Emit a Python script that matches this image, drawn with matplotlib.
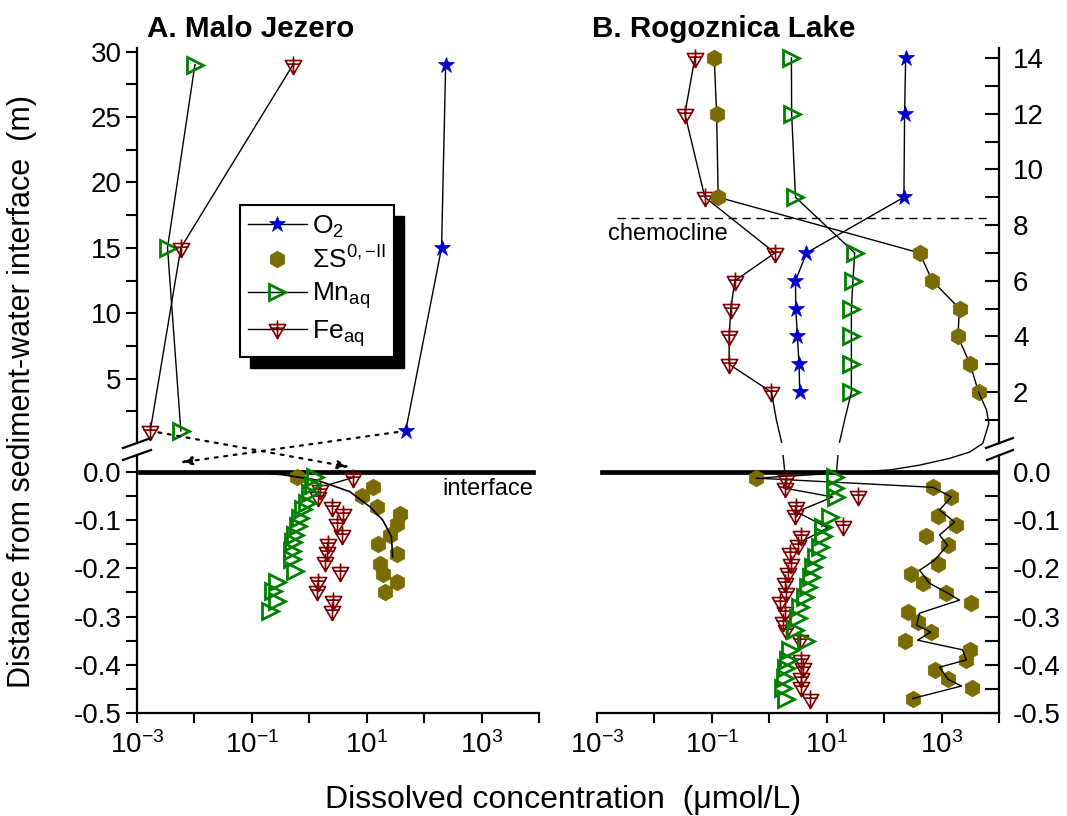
import numpy as np
import matplotlib
matplotlib.use('Agg')
import matplotlib.pyplot as plt
from matplotlib.path import Path
from matplotlib.lines import Line2D
from matplotlib.patches import Rectangle
from matplotlib.ticker import FixedLocator, NullFormatter, FormatStrFormatter, LogFormatterMathtext, NullLocator

plt.rcParams['font.family'] = ['Liberation Sans', 'DejaVu Sans']
plt.rcParams['mathtext.fontset'] = 'custom'
plt.rcParams['mathtext.rm'] = 'Liberation Sans'
plt.rcParams['mathtext.it'] = 'Liberation Sans:italic'
plt.rcParams['mathtext.bf'] = 'Liberation Sans:bold'
plt.rcParams['axes.unicode_minus'] = False

# ---------------- data ----------------
# Panel A (Malo Jezero) water column, height above sediment (m)
a_wc_depth = [29, 15, 1]
a_wc_o2 = [237, 201, 47.7]
a_wc_mn = [0.0102, 0.0034, 0.0058]
a_wc_fe = [0.52, 0.0058, 0.0017]

# Panel A pore water (m, negative below interface)
a_pw_mn_depth = [-0.010, -0.027, -0.043, -0.064, -0.078, -0.095, -0.113, -0.130,
                 -0.146, -0.165, -0.181, -0.206, -0.228, -0.247, -0.267, -0.288]
a_pw_mn = [1.25, 1.15, 1.02, 0.91, 0.77, 0.68, 0.63, 0.56,
           0.52, 0.50, 0.50, 0.56, 0.27, 0.23, 0.27, 0.21]
a_pw_fe_depth = [-0.012, -0.037, -0.053, -0.072, -0.088, -0.109, -0.130, -0.150,
                 -0.167, -0.187, -0.208, -0.228, -0.247, -0.267, -0.288]
a_pw_fe = [5.7, 1.52, 1.41, 2.46, 3.83, 3.0, 3.67, 2.1,
           2.0, 1.86, 3.39, 1.41, 1.35, 2.56, 2.46]
a_pw_s_depth = [-0.010, -0.031, -0.051, -0.072, -0.088, -0.109, -0.130, -0.150,
                -0.171, -0.191, -0.212, -0.228, -0.249]
a_pw_s = [0.61, 12.7, 8.2, 14.9, 37.5, 33.3, 25.1, 15.5, 33.3, 16.8, 19.0, 33.3, 20.6]
a_pw_s_fit_depth = [0.0, -0.006, -0.017, -0.041, -0.072, -0.100, -0.134, -0.176]
a_pw_s_fit = [0.092, 0.346, 1.35, 5.06, 11.3, 19.0, 26.9, 28.3]
a_pw_fe_fit_depth = [-0.012, -0.027]
a_pw_fe_fit = [5.7, 2.14]
# bottom-water -> pore-water flux arrows (end points in pore-water coordinates)
a_arrow_fe_end = (5.06, 0.010)
a_arrow_o2_end = (0.0056, 0.0195)

# Panel B (Rogoznica Lake) water column depth (m)
b_wc_depth = [14, 12, 9, 7, 6, 5, 4, 3, 2]
b_wc_o2 = [237, 227, 221, 4.44, 2.86, 2.89, 3.09, 3.30, 3.39]
b_wc_mn = [2.43, 2.45, 2.86, 30.7, 28.6, 26.9, 26.9, 26.9, 26.9]
b_wc_fe = [0.0506, 0.0339, 0.0755, 1.25, 0.251, 0.214, 0.20, 0.20, 1.09]
b_wc_s = [0.110, 0.121, 0.129, 414, 689, 2055, 1920, 3155, 4400]
b_chemocline = 8.25

# extrapolated profiles down to the interface (water part / sediment part)
b_ext_fe_wc_depth = [2.0, 1.0, 0.22, 0.0]
b_ext_fe_wc = [1.09, 1.33, 1.63, 1.70]
b_ext_fe_pw_depth = [0.06, 0.035, 0.0]
b_ext_fe_pw = [1.70, 1.74, 1.86]
b_ext_mn_wc_depth = [2.0, 1.0, 0.22, 0.0]
b_ext_mn_wc = [26.9, 20.5, 16.8, 16.3]
b_ext_mn_pw_depth = [0.06, 0.035, 0.0]
b_ext_mn_pw = [16.0, 15.7, 14.8]
b_ext_s_wc_depth = [2.0, 1.36, 0.88, 0.16]
b_ext_s_wc = [4400, 6070, 6650, 5220]
b_ext_s_pw_depth = [0.041, 0.028, 0.014, 0.004, -0.013]
b_ext_s_pw = [3070, 1377, 414, 125, 0.598]

# Panel B pore water
b_pw_s_depth = [-0.013, -0.032, -0.052, -0.092, -0.111, -0.132, -0.152, -0.192, -0.211,
                -0.231, -0.251, -0.271, -0.291, -0.311, -0.332, -0.350, -0.370, -0.390,
                -0.410, -0.430, -0.449, -0.470]
b_pw_s = [0.598, 706, 1475, 863, 1780, 542, 1288, 863, 297, 473, 1207, 3220, 259, 387,
          649, 227, 3120, 2690, 755, 1288, 3350, 313]
b_pw_s_fit_depth = [-0.013, -0.032, -0.052, -0.079, -0.104, -0.131, -0.152, -0.183, -0.204,
                    -0.231, -0.249, -0.266, -0.276, -0.293, -0.318, -0.332, -0.349, -0.369,
                    -0.390, -0.405, -0.430, -0.444, -0.470]
b_pw_s_fit = [0.598, 706, 1475, 923, 1683, 923, 1270, 755, 414, 618, 1175, 2056, 1127,
              414, 367, 649, 383, 2317, 2690, 923, 1288, 2228, 313]
b_pw_mn_depth = [-0.010, -0.034, -0.053, -0.093, -0.114, -0.134, -0.155, -0.176, -0.197,
                 -0.217, -0.238, -0.259, -0.280, -0.304, -0.328, -0.350, -0.369, -0.390,
                 -0.407, -0.428, -0.449, -0.470]
b_pw_mn = [13.8, 13.8, 14.8, 11.3, 8.63, 8.63, 7.55, 6.62, 5.78, 5.42, 4.73, 4.14, 3.39,
           3.17, 2.77, 4.44, 2.28, 2.12, 1.99, 1.86, 1.74, 1.99]
b_pw_fe_depth = [-0.017, -0.034, -0.051, -0.072, -0.089, -0.112, -0.134, -0.152, -0.169,
                 -0.190, -0.210, -0.231, -0.252, -0.269, -0.290, -0.311, -0.328, -0.349,
                 -0.390, -0.407, -0.428, -0.446, -0.470]
b_pw_fe = [1.99, 1.86, 35, 2.97, 2.77, 19.2, 3.63, 3.17, 2.28, 2.43, 2.12, 1.86, 1.99,
           1.52, 1.86, 1.74, 1.99, 3.39, 3.63, 3.87, 3.63, 3.63, 5.06]
b_pw_fe_fit_depth = [-0.017, -0.033, -0.052, -0.083, -0.116, -0.141]
b_pw_fe_fit = [1.99, 1.72, 12.7, 3.0, 10.4, 4.14]

x_major = [1e-3, 1e-1, 1e1, 1e3]
x_minor = [1e-2, 1e0, 1e2, 1e4]

# ---------------- styles ----------------
BLUE = '#0000CC'
GREEN = '#008000'
DRED = '#800000'
OLIVE = '#7a6c00'

fe_marker = Path([(-0.9, 0.55), (0.9, 0.55), (0.0, -1.0), (-0.9, 0.55),
                  (0.0, 1.0), (0.0, -1.0), (-0.75, 0.15), (0.75, 0.15)],
                 [Path.MOVETO, Path.LINETO, Path.LINETO, Path.CLOSEPOLY,
                  Path.MOVETO, Path.LINETO, Path.MOVETO, Path.LINETO])

st_o2 = dict(marker='*', ms=12, mfc=BLUE, mec=BLUE, mew=0.5)
st_s = dict(marker='h', ms=12, mfc=OLIVE, mec=OLIVE, mew=0.5)
st_mn = dict(marker='>', ms=11, mfc='none', mec=GREEN, mew=2)
st_fe = dict(marker=fe_marker, ms=13, mfc='none', mec=DRED, mew=1.2)
LW = 1.0
TICKFS = 20

W, H = 1067, 816
fig = plt.figure(figsize=(W / 100, H / 100), dpi=100)


def rect(x0, y0, x1, y1):
    return [x0 / W, 1 - y1 / H, (x1 - x0) / W, (y1 - y0) / H]


axAt = fig.add_axes(rect(137, 48, 539, 443))
axAb = fig.add_axes(rect(137, 455, 539, 713))
axBt = fig.add_axes(rect(597, 48, 999, 443))
axBb = fig.add_axes(rect(597, 455, 999, 713))

for ax in (axAt, axAb, axBt, axBb):
    ax.set_xscale('log')
    ax.set_xlim(1e-3, 1e4)
    ax.set_facecolor('none')
    for s in ax.spines.values():
        s.set_visible(False)
        s.set_linewidth(1.6)

axAt.set_ylim(0.076, 30.28)
axBt.set_ylim(0.173, 14.36)
axAb.set_ylim(-0.5, 0.035)
axBb.set_ylim(-0.5, 0.035)

# spines
axAt.spines['left'].set_visible(True)
axAb.spines['left'].set_visible(True)
axAb.spines['bottom'].set_visible(True)
axBt.spines['right'].set_visible(True)
axBb.spines['right'].set_visible(True)
axBb.spines['bottom'].set_visible(True)

# ticks
for ax in (axAt, axBt):
    ax.xaxis.set_major_locator(NullLocator())
    ax.xaxis.set_minor_locator(NullLocator())
for ax in (axAb, axBb):
    ax.xaxis.set_major_locator(FixedLocator(x_major))
    ax.xaxis.set_minor_locator(FixedLocator(x_minor))
    ax.xaxis.set_major_formatter(LogFormatterMathtext())
    ax.xaxis.set_minor_formatter(NullFormatter())
    ax.tick_params(axis='x', which='both', direction='out', length=7, width=1.5,
                   labelsize=TICKFS, pad=6)

axAt.yaxis.set_major_locator(FixedLocator([5, 10, 15, 20, 25, 30]))
axAt.yaxis.set_minor_locator(FixedLocator([2.5, 7.5, 12.5, 17.5, 22.5, 27.5]))
axAt.tick_params(axis='y', which='both', direction='out', length=8, width=1.5,
                 labelsize=TICKFS, pad=3)

axBt.yaxis.set_major_locator(FixedLocator([2, 4, 6, 8, 10, 12, 14]))
axBt.yaxis.set_minor_locator(FixedLocator([1, 3, 5, 7, 9, 11, 13]))
axBt.yaxis.tick_right()
axBt.tick_params(axis='y', which='both', direction='in', length=10, width=1.5,
                 labelsize=TICKFS, pad=10, left=False, right=True)

for ax in (axAb, axBb):
    ax.yaxis.set_major_locator(FixedLocator([0.0, -0.1, -0.2, -0.3, -0.4, -0.5]))
    ax.yaxis.set_minor_locator(FixedLocator([-0.05, -0.15, -0.25, -0.35, -0.45]))
    ax.yaxis.set_major_formatter(FormatStrFormatter('%.1f'))
axAb.tick_params(axis='y', which='both', direction='out', length=8, width=1.5,
                 labelsize=TICKFS, pad=3)
axBb.yaxis.tick_right()
axBb.tick_params(axis='y', which='both', direction='in', length=10, width=1.5,
                 labelsize=TICKFS, pad=10, left=False, right=True)


def sed_in_top(ax_top, ax_bot, x, y):
    pts = ax_bot.transData.transform(np.column_stack([x, y]))
    return ax_top.transData.inverted().transform(pts)


# ---------------- Panel A ----------------
axAt.plot(a_wc_o2, a_wc_depth, color='k', lw=LW, **st_o2, clip_on=False)
axAt.plot(a_wc_mn, a_wc_depth, color='k', lw=LW, **st_mn, clip_on=False)
axAt.plot(a_wc_fe, a_wc_depth, color='k', lw=LW, **st_fe, clip_on=False)

arrow_kw = dict(arrowstyle='-|>,head_length=0.7,head_width=0.25', lw=1.6,
                ls=(0, (1.3, 3.0)), color='k', shrinkA=6, shrinkB=0)
axAt.annotate('', xy=a_arrow_fe_end, xycoords=axAb.transData,
              xytext=(a_wc_fe[-1], a_wc_depth[-1]), textcoords='data',
              arrowprops=arrow_kw, annotation_clip=False)
axAt.annotate('', xy=a_arrow_o2_end, xycoords=axAb.transData,
              xytext=(a_wc_o2[-1], a_wc_depth[-1]), textcoords='data',
              arrowprops=arrow_kw, annotation_clip=False)

axAb.axhline(0, xmin=0.008, xmax=0.985, color='k', lw=3.4, zorder=1.5)
axAb.plot(a_pw_s_fit, a_pw_s_fit_depth, color='k', lw=1.2, zorder=2.5)
axAb.plot(a_pw_fe_fit, a_pw_fe_fit_depth, color='k', lw=1.0, zorder=2.5)
axAb.plot(a_pw_s, a_pw_s_depth, ls='none', **st_s, zorder=2)
axAb.plot(a_pw_fe, a_pw_fe_depth, ls='none', **st_fe, zorder=3)
axAb.plot(a_pw_mn, a_pw_mn_depth, ls='none', **st_mn, zorder=3)
axAb.text(210, -0.035, 'interface', fontsize=17, va='center', ha='left')

# legend
handles = [Line2D([], [], color='k', lw=LW, **st_o2),
           Line2D([], [], ls='none', **st_s),
           Line2D([], [], color='k', lw=LW, **st_mn),
           Line2D([], [], color='k', lw=LW, **st_fe)]
labels = ['O$_2$', '\u03a3S$^{0,\\mathrm{-II}}$', 'Mn$_{\\mathrm{aq}}$', 'Fe$_{\\mathrm{aq}}$']
leg = axAt.legend(handles, labels, loc='upper left',
                  bbox_to_anchor=(240 / W, 1 - 205 / H), bbox_transform=fig.transFigure,
                  borderaxespad=0, frameon=True, fancybox=False, framealpha=1,
                  edgecolor='k', fontsize=19, handlelength=2.2, handletextpad=0.2,
                  labelspacing=0.26, borderpad=0.32, numpoints=1)
leg.get_frame().set_linewidth(1.5)
fig.canvas.draw()
bb = leg.get_window_extent(fig.canvas.get_renderer())
p0 = axAt.transAxes.inverted().transform((bb.x0 + 10, bb.y0 - 11))
p1 = axAt.transAxes.inverted().transform((bb.x1 + 10, bb.y1 - 11))
axAt.add_patch(Rectangle(p0, p1[0] - p0[0], p1[1] - p0[1], transform=axAt.transAxes,
                         facecolor='k', edgecolor='k', zorder=4.5, clip_on=False))

# ---------------- Panel B ----------------
axBt.plot(b_wc_o2, b_wc_depth, color='k', lw=LW, **st_o2)
axBt.plot(b_wc_mn, b_wc_depth, color='k', lw=LW, **st_mn)
axBt.plot(b_wc_fe, b_wc_depth, color='k', lw=LW, **st_fe)
axBt.plot(b_wc_s, b_wc_depth, color='k', lw=LW, **st_s)

axBt.plot([2.2e-3, 6e3], [b_chemocline, b_chemocline], color='k', lw=1.0, ls=(0, (6, 4)))
axBt.text(1.55e-3, 7.68, 'chemocline', fontsize=17, va='center', ha='left')

# extrapolations to the interface
axBt.plot(b_ext_fe_wc, b_ext_fe_wc_depth, color='k', lw=LW)
axBb.plot(b_ext_fe_pw, b_ext_fe_pw_depth, color='k', lw=LW)
axBt.plot(b_ext_mn_wc, b_ext_mn_wc_depth, color='k', lw=LW)
axBb.plot(b_ext_mn_pw, b_ext_mn_pw_depth, color='k', lw=LW)
s_pw_top = sed_in_top(axBt, axBb, b_ext_s_pw, b_ext_s_pw_depth)
s_x = list(b_ext_s_wc) + list(s_pw_top[:, 0])
s_y = list(b_ext_s_wc_depth) + list(s_pw_top[:, 1])
axBt.plot(s_x, s_y, color='k', lw=LW, clip_on=False)

axBb.axhline(0, xmin=0.012, xmax=0.995, color='k', lw=3.4, zorder=1.5)
axBb.plot(b_pw_s_fit, b_pw_s_fit_depth, color='k', lw=LW, zorder=2.5)
axBb.plot(b_pw_fe_fit, b_pw_fe_fit_depth, color='k', lw=LW, zorder=2.5)
axBb.plot(b_pw_s, b_pw_s_depth, ls='none', **st_s, zorder=2)
axBb.plot(b_pw_fe, b_pw_fe_depth, ls='none', **st_fe, zorder=3)
axBb.plot(b_pw_mn, b_pw_mn_depth, ls='none', **st_mn, zorder=3)

# axis-break marks
for (xa, ya, xb, yb) in [(123, 448, 151, 438), (123, 460, 151, 450),
                         (986, 448, 1013, 438), (987, 460, 1013, 450)]:
    fig.add_artist(Line2D([xa / W, xb / W], [1 - ya / H, 1 - yb / H],
                          transform=fig.transFigure, color='k', lw=1.6))

# titles and labels
fig.text(147 / W, 1 - 29 / H, 'A. Malo Jezero', fontsize=21.3, fontweight='bold',
         ha='left', va='center')
fig.text(592 / W, 1 - 29 / H, 'B. Rogoznica Lake', fontsize=21.3, fontweight='bold',
         ha='left', va='center')
fig.text(22 / W, 1 - 392 / H, 'Distance from sediment-water interface  (m)',
         rotation=90, fontsize=22, ha='center', va='center')
fig.text(563 / W, 1 - 800 / H, 'Dissolved concentration  (\u03bcmol/L)',
         fontsize=23, ha='center', va='center')

fig.savefig('out.png', dpi=100)
